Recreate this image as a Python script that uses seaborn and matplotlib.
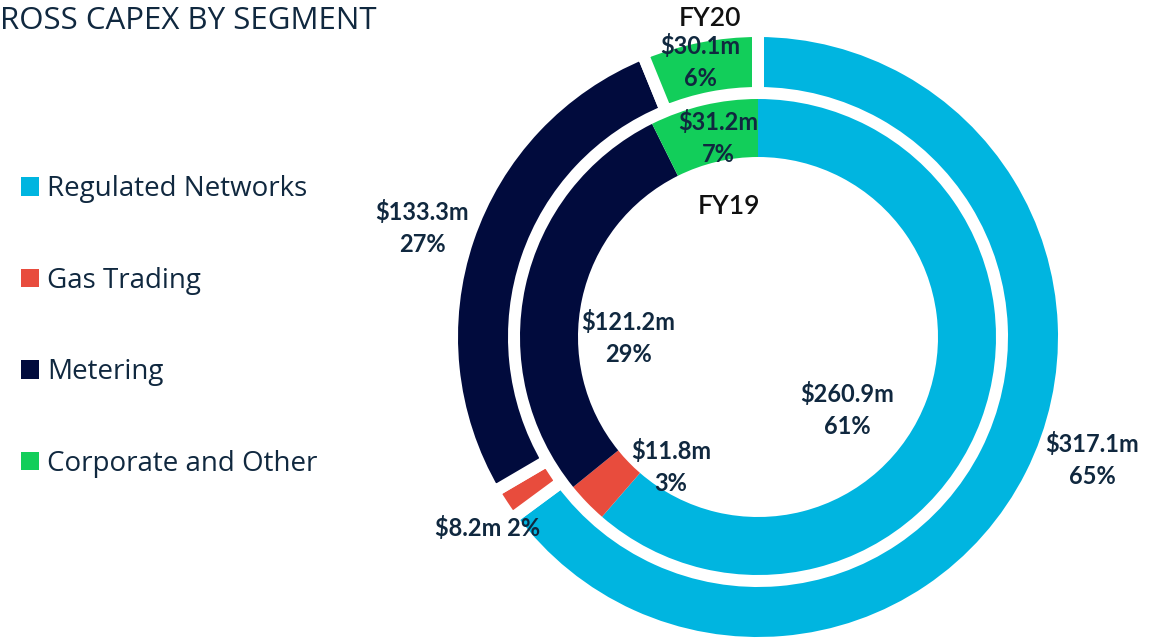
import numpy as np
import seaborn as sns
import matplotlib.pyplot as plt
from matplotlib.patches import Patch

# --- Data ---
segments = ['Regulated Networks', 'Gas Trading', 'Metering', 'Corporate and Other']
fy20_capex = [317.1, 8.2, 133.3, 30.1]
fy19_capex = [260.9, 11.8, 121.2, 31.2]
seg_colors = ['#00B5E0', '#E84C3D', '#010B3D', '#12CE5A']

sns.set_theme(style='white')
palette = sns.color_palette(seg_colors)
label_color = '#10283F'

fig = plt.figure(figsize=(11.67, 6.4), dpi=100)
ax = fig.add_axes([0, 0, 1, 1])

# pixel-like data space: 1 unit = 1 px
cx, cy = 758, 640 - 337

# --- Outer ring (FY20), white gaps between wedges ---
gap_px = 12
outer_wedges, _ = ax.pie(
    fy20_capex, colors=palette, startangle=90, counterclock=False,
    radius=300 + gap_px / 2, center=(cx, cy),
    wedgeprops=dict(width=50 + gap_px, edgecolor='white', linewidth=gap_px * 0.72),
)

# --- Inner ring (FY19) ---
inner_wedges, _ = ax.pie(
    fy19_capex, colors=palette, startangle=90, counterclock=False,
    radius=238, center=(cx, cy),
    wedgeprops=dict(width=58, edgecolor='none', linewidth=0),
)

ax.set_xlim(0, 1167)
ax.set_ylim(0, 640)
ax.set_aspect('equal')
ax.axis('off')

# --- Data labels (offsets from ring centre, screen px, down = +) ---
outer_offsets = [(334, 123), (-270, 191), (-336, -109), (-58, -275)]
inner_offsets = [(89, 73), (-87, 130), (-130, 1), (-40, -199)]

lab_font = dict(family=['Lato', 'DejaVu Sans'], fontweight='bold', fontsize=17,
                color=label_color, ha='center', va='center', linespacing=1.45)

tot20 = sum(fy20_capex)
for i, (v, (dx, dy)) in enumerate(zip(fy20_capex, outer_offsets)):
    pct = 100 * v / tot20
    sep = ' ' if segments[i] == 'Gas Trading' else '\n'
    ax.text(cx + dx, cy - dy, f'${v:.1f}m{sep}{pct:.0f}%', **lab_font)

tot19 = sum(fy19_capex)
for v, (dx, dy) in zip(fy19_capex, inner_offsets):
    pct = 100 * v / tot19
    ax.text(cx + dx, cy - dy, f'${v:.1f}m\n{pct:.0f}%', **lab_font)

# ring names
ax.text(cx - 48, cy + 319, 'FY20', family=['Lato', 'DejaVu Sans'], fontsize=19,
        fontweight='semibold', color='#111111', ha='center', va='center')
ax.text(cx - 29, cy + 131, 'FY19', family=['Lato', 'DejaVu Sans'], fontsize=19,
        fontweight='semibold', color='#111111', ha='center', va='center')

# --- Title ---
fig.text(0.0, 1 - 21 / 640, 'ROSS CAPEX BY SEGMENT',
         family=['Open Sans', 'DejaVu Sans'],
         fontsize=22.5, color=label_color, ha='left', va='center')

# --- Legend ---
handles = [Patch(facecolor=c, edgecolor='none') for c in palette]
leg = fig.legend(
    handles, segments, loc='upper left',
    bbox_to_anchor=(21 / 1167, 1 - 175 / 640),
    frameon=False, borderpad=0, borderaxespad=0,
    handlelength=0.65, handleheight=0.65, handletextpad=0.3,
    labelspacing=2.29,
    prop=dict(family=['Open Sans', 'DejaVu Sans'], size=20),
)
for t in leg.get_texts():
    t.set_color(label_color)

fig.savefig('out.png', dpi=100)
